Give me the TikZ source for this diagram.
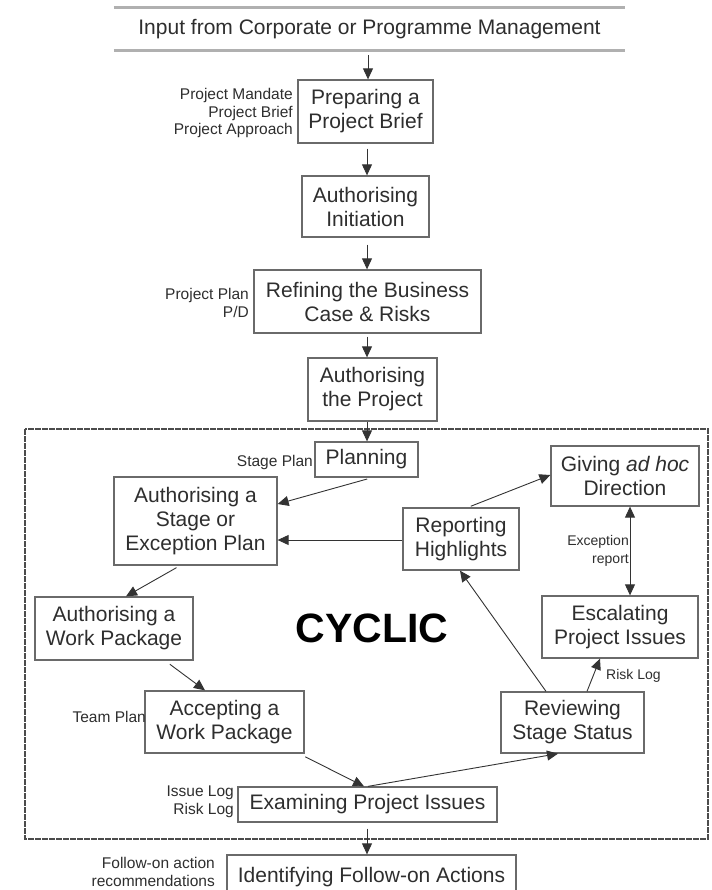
\documentclass[tikz,border=0pt]{standalone}
\usepackage{fontspec}
\setmainfont{Liberation Sans}
\usetikzlibrary{arrows.meta}
\definecolor{boxline}{HTML}{6A6A6A}
\definecolor{inktext}{HTML}{2E2E2E}
\definecolor{rulegray}{HTML}{B0B0B0}
\tikzset{
  proc/.style={draw=boxline, line width=1.3pt, fill=white, text=inktext,
    align=center, inner sep=0pt,
    font=\fontsize{21}{24}\selectfont},
  note/.style={text=inktext, inner sep=0pt,
    font=\fontsize{15.5}{17.5}\selectfont},
  flow/.style={draw=black!80, line width=0.9pt,
    -{Triangle[length=11pt,width=10pt]}},
  flow2/.style={flow, {Triangle[length=11pt,width=10pt]}-{Triangle[length=11pt,width=10pt]}},
  frame/.style={draw=black!70, line width=2.6pt, dash pattern=on 6pt off 1pt}
}
\begin{document}
\begin{tikzpicture}[x=1pt,y=-1pt]
\clip (0,0) rectangle (711,890);
\fill[white] (0,0) rectangle (711,890);

% input band between two grey rules
\node[inner sep=0pt, minimum width=511pt, minimum height=42pt, text=inktext,
      font=\fontsize{21}{24}\selectfont] (input) at (369.5,29) {Input from Corporate or Programme Management};
\draw[rulegray, line width=3pt] (input.north west) -- (input.north east);
\draw[rulegray, line width=3pt] (input.south west) -- (input.south east);

% cyclic frame
\draw[frame] (25,429) rectangle (708,839);
\node[font=\fontsize{41}{44}\selectfont\bfseries, text=black] (cyclic) at (372,628) {CYCLIC};

% processes
\node[proc, minimum width=135pt, minimum height=63pt] (brief) at (365.5,111.5) {Preparing a\\Project Brief};
\node[proc, minimum width=127pt, minimum height=61pt] (init) at (365.5,206.5) {Authorising\\Initiation};
\node[proc, minimum width=227pt, minimum height=63pt] (refine) at (367.5,301.5) {Refining the Business\\Case \& Risks};
\node[proc, minimum width=129pt, minimum height=63pt] (authproj) at (372.5,389.5) {Authorising\\the Project};
\node[proc, minimum width=103pt, minimum height=35pt] (planning) at (366.5,459.5) {Planning};
\node[proc, minimum width=163pt, minimum height=88pt] (authstage) at (195.5,521) {Authorising a\\Stage or\\Exception Plan};
\node[proc, minimum width=116pt, minimum height=62pt] (report) at (461,539) {Reporting\\Highlights};
\node[proc, minimum width=148pt, minimum height=60pt] (giving) at (625,476) {Giving \textit{ad hoc}\\Direction};
\node[proc, minimum width=156pt, minimum height=62pt] (escal) at (620,627) {Escalating\\Project Issues};
\node[proc, minimum width=143pt, minimum height=61pt] (review) at (572.5,722.5) {Reviewing\\Stage Status};
\node[proc, minimum width=158pt, minimum height=63pt] (authwp) at (114,628.5) {Authorising a\\Work Package};
\node[proc, minimum width=159pt, minimum height=62pt] (accept) at (224.5,722) {Accepting a\\Work Package};
\node[proc, minimum width=259pt, minimum height=35pt] (examine) at (367.5,804.5) {Examining Project Issues};
\node[proc, minimum width=289pt, minimum height=45pt] (identify) at (371.5,877.5) {Identifying Follow-on Actions};

% products beside the processes
\node[note, anchor=east, align=right] (nbrief) at (293,113) {Project Mandate\\Project Brief\\Project Approach};
\node[note, anchor=east, align=right] (nrefine) at (249,303) {Project Plan\\P/D};
\node[note, anchor=east] (nplan) at (313,462) {Stage Plan};
\node[note, anchor=east] (nteam) at (146,717) {Team Plan};
\node[note, anchor=east, align=right] (nexam) at (234,802) {Issue Log\\Risk Log};
\node[note, anchor=east, align=right] (nident) at (215,872) {Follow-on action\\recommendations};
\node[note, anchor=east, align=right, font=\fontsize{14}{18}\selectfont] (nexc) at (629,551) {Exception\\report};
\node[note, anchor=west, font=\fontsize{14}{16}\selectfont] (nrisk) at (606,676) {Risk Log};

% main flow
\draw[flow, shorten <=5pt] (input.south -| 368,0) -- (brief.north -| 368,0);
\draw[flow, shorten <=5pt] (brief.south -| 367,0) -- (init.north -| 367,0);
\draw[flow, shorten <=7pt] (init.south -| 367,0) -- (refine.north -| 367,0);
\draw[flow, shorten <=3pt] (refine.south -| 367,0) -- (authproj.north -| 367,0);
\draw[flow] (authproj.south -| 367,0) -- (planning.north -| 367,0);

% cycle
\draw[flow, shorten <=5pt] (planning.south -| 372,0) -- (authstage.east |- 0,504);
\draw[flow] (report.west |- 0,540) -- (authstage.east |- 0,540);
\draw[flow, shorten <=3pt] (report.north -| 468,0) -- (giving.west |- 0,475);
\draw[flow2] (giving.south -| 630,0) -- (escal.north -| 630,0);
\draw[flow] (review.north -| 587,0) -- (escal.south -| 600,0);
\draw[flow] (review.north -| 546,0) -- (report.south -| 460,0);
\draw[flow, shorten <=4pt] (authstage.south -| 180,0) -- (authwp.north -| 126,0);
\draw[flow, shorten <=6pt] (authwp.south -| 165,0) -- (accept.north -| 205,0);
\draw[flow, shorten <=7pt] (accept.south -| 299,0) -- (examine.north -| 364,0);
\draw[flow] (examine.north -| 368,0) -- (review.south -| 558,0);

% exit
\draw[flow, shorten <=6pt] (examine.south -| 367,0) -- (identify.north -| 367,0);
\end{tikzpicture}
\end{document}
